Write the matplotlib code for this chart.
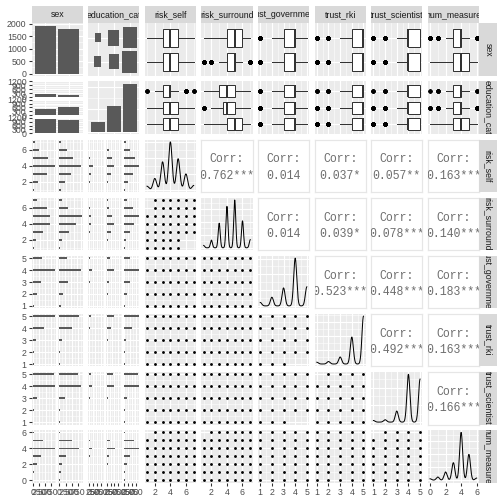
import numpy as np
import matplotlib
matplotlib.use("Agg")
import matplotlib.pyplot as plt
from matplotlib import cbook
from matplotlib.patches import Rectangle
from matplotlib.ticker import MaxNLocator, FuncFormatter

plt.rcParams["font.family"] = ["Liberation Sans", "DejaVu Sans"]

names = ["sex", "education_cat", "risk_self", "risk_surround",
         "trust_government", "trust_rki", "trust_scientist", "num_measure"]

values = {
    "risk_self": [1, 2, 3, 4, 5, 6, 7],
    "risk_surround": [1, 2, 3, 4, 5, 6, 7],
    "trust_government": [1, 2, 3, 4, 5],
    "trust_rki": [1, 2, 3, 4, 5],
    "trust_scientist": [1, 2, 3, 4, 5],
    "num_measure": [0, 1, 2, 3, 4, 5, 6],
}

# rows: sex 1, 2 / columns: education_cat 1..3
sex_edu = [[260, 510, 1150],
           [170, 630, 1000]]

# counts of each value, per sex level
by_sex = {
    "risk_self": [[48, 145, 405, 637, 434, 193, 58], [44, 151, 328, 621, 381, 222, 53]],
    "risk_surround": [[30, 100, 290, 495, 490, 395, 120], [25, 80, 285, 475, 629, 235, 70]],
    "trust_government": [[69, 180, 345, 939, 387], [64, 153, 345, 894, 344]],
    "trust_rki": [[48, 64, 160, 560, 1088], [29, 43, 144, 605, 979]],
    "trust_scientist": [[29, 43, 186, 860, 802], [27, 41, 203, 820, 709]],
    "num_measure": [[26, 53, 171, 342, 894, 395, 39], [24, 59, 118, 272, 782, 509, 36]],
}

# counts of each value, per education level
by_edu = {
    "risk_self": [[10, 40, 100, 180, 65, 25, 10], [28, 90, 225, 380, 250, 130, 37],
                  [54, 166, 408, 698, 500, 260, 64]],
    "risk_surround": [[12, 30, 80, 120, 110, 55, 23], [18, 62, 205, 380, 289, 135, 50],
                      [25, 88, 290, 470, 720, 440, 117]],
    "trust_government": [[18, 42, 85, 200, 85], [40, 100, 215, 565, 220], [75, 191, 390, 1068, 426]],
    "trust_rki": [[12, 15, 45, 140, 218], [25, 32, 95, 360, 628], [40, 60, 164, 665, 1221]],
    "trust_scientist": [[10, 14, 70, 190, 146], [18, 27, 120, 520, 455], [28, 43, 199, 970, 910]],
    "num_measure": [[6, 14, 35, 80, 210, 75, 10], [14, 33, 85, 180, 560, 240, 28],
                    [30, 65, 169, 354, 906, 589, 37]],
}

# (y variable, x variable): value pairs (x, y) with no respondents
no_points = {
    ("risk_surround", "risk_self"): [(1, 7), (1, 6), (6, 2), (7, 2), (6, 1), (7, 1)],
    ("trust_rki", "trust_government"): [(4, 1), (5, 1)],
    ("trust_scientist", "trust_government"): [(4, 1), (5, 1)],
    ("trust_scientist", "trust_rki"): [(1, 5)],
    ("num_measure", "risk_self"): [(1, 6)],
    ("num_measure", "risk_surround"): [(1, 6)],
    ("num_measure", "trust_scientist"): [(1, 6)],
}

corr = {
    ("risk_self", "risk_surround"): "0.762***",
    ("risk_self", "trust_government"): "0.014",
    ("risk_self", "trust_rki"): "0.037*",
    ("risk_self", "trust_scientist"): "0.057**",
    ("risk_self", "num_measure"): "0.163***",
    ("risk_surround", "trust_government"): "0.014",
    ("risk_surround", "trust_rki"): "0.039*",
    ("risk_surround", "trust_scientist"): "0.078***",
    ("risk_surround", "num_measure"): "0.140***",
    ("trust_government", "trust_rki"): "0.523***",
    ("trust_government", "trust_scientist"): "0.448***",
    ("trust_government", "num_measure"): "0.183***",
    ("trust_rki", "trust_scientist"): "0.492***",
    ("trust_rki", "num_measure"): "0.163***",
    ("trust_scientist", "num_measure"): "0.166***",
}

W = H = 504
fig = plt.figure(figsize=(7, 7), dpi=72)

X0, DX, PW = 31.5, 56.6, 51.3
Y0, DY, PH = 23.3, 58.1, 52.6
STRIP = 17.8
GAP = 2.0
GREY = "#595959"
INK = "#333333"
fmt = FuncFormatter(lambda v, p: f"{v:g}")


def add_ax(x, y, w, h):
    return fig.add_axes([x / W, 1 - (y + h) / H, w / W, h / H])


def breaks(lo, hi):
    return MaxNLocator(nbins=4, steps=[1, 2, 2.5, 3, 5, 10]).tick_values(lo, hi)


def minor(maj):
    step = maj[1] - maj[0]
    return np.arange(maj[0] - step / 2, maj[-1] + step, step)


def inside(v, lim):
    v = np.asarray(v, float)
    return v[(v >= lim[0] - 1e-9) & (v <= lim[1] + 1e-9)]


def setup(ax, xlim, ylim, xmaj, ymaj, xmin=(), ymin=(), xlab=False, ylab=False):
    ax.set_facecolor("#EBEBEB")
    for s in ax.spines.values():
        s.set_visible(False)
    ax.set_xlim(*xlim)
    ax.set_ylim(*ylim)
    ax.set_xticks(inside(xmaj, xlim))
    ax.set_yticks(inside(ymaj, ylim))
    ax.set_xticks(inside(xmin, xlim), minor=True)
    ax.set_yticks(inside(ymin, ylim), minor=True)
    ax.xaxis.set_major_formatter(fmt)
    ax.yaxis.set_major_formatter(fmt)
    ax.grid(True, which="major", color="white", lw=1.1)
    ax.grid(True, which="minor", color="white", lw=0.55)
    ax.set_axisbelow(True)
    ax.tick_params(which="minor", length=0)
    ax.tick_params(which="major", length=2.75, width=1.07, color=INK,
                   labelsize=8.8, labelcolor="#4D4D4D", pad=2.2)
    ax.tick_params(axis="x", bottom=xlab, labelbottom=xlab)
    ax.tick_params(axis="y", left=ylab, labelleft=ylab)


def cont_axis(var):
    v = values[var]
    r = max(v) - min(v)
    maj = breaks(min(v), max(v))
    return (min(v) - 0.05 * r, max(v) + 0.05 * r), maj, minor(maj)


def count_axis(m):
    maj = breaks(0, m)
    return (-0.05 * m, 1.05 * m), maj, minor(maj)


def bar_panel(ax, counts, ylab):
    k = len(counts)
    pos = np.arange(1, k + 1)
    lim, maj, mn = count_axis(max(counts))
    setup(ax, (0.4, k + 0.6), lim, pos, maj, (), mn, ylab=ylab)
    ax.bar(pos, counts, width=0.9, color=GREY)


def count_panel(ax):
    setup(ax, (0.4, 3.6), (0.4, 2.6), [1, 2, 3], [1, 2])
    top = max(max(r) for r in sex_edu)
    for si, row in enumerate(sex_edu):
        for ei, nval in enumerate(row):
            s = 0.92 * np.sqrt(nval / top)
            ax.add_patch(Rectangle((ei + 1 - s / 2, si + 1 - s / 2), s, s, color=GREY, lw=0))


def box_panel(ax, var, groups, xlab):
    k = len(groups)
    lim, maj, mn = cont_axis(var)
    setup(ax, lim, (0.4, k + 0.6), maj, np.arange(1, k + 1), mn, (), xlab=xlab)
    stats = [cbook.boxplot_stats(np.repeat(values[var], g), whis=1.5)[0] for g in groups]
    ax.bxp(stats, positions=[k - g for g in range(k)], orientation="horizontal",
           widths=0.75, patch_artist=True, showcaps=False,
           boxprops=dict(facecolor="white", edgecolor=INK, lw=1.0),
           medianprops=dict(color=INK, lw=2.0),
           whiskerprops=dict(color=INK, lw=1.0),
           flierprops=dict(marker="o", markerfacecolor="black", markeredgecolor="black",
                           markersize=2.8, lw=0))


def facetbar(x, y, ylab):
    fh = (PH - 2 * GAP) / 3
    top = max(max(r) for r in sex_edu)
    lim, maj, mn = count_axis(top)
    for e in range(3):
        ax = add_ax(x, y + e * (fh + GAP), PW, fh)
        setup(ax, (0.4, 2.6), lim, [1, 2], maj, (), mn, ylab=ylab)
        ax.bar([1, 2], [sex_edu[0][e], sex_edu[1][e]], width=0.9, color=GREY)


def facethist(x, y, var, groups, xlab, ylab):
    k = len(groups)
    fw = (PW - (k - 1) * GAP) / k
    vlim, vmaj, vmn = cont_axis(var)
    clim, cmaj, cmn = count_axis(max(max(g) for g in groups))
    v = values[var]
    bw = (max(v) - min(v)) / 29
    for gi, g in enumerate(groups):
        ax = add_ax(x + gi * (fw + GAP), y, fw, PH)
        setup(ax, clim, vlim, cmaj, vmaj, cmn, vmn, xlab=xlab, ylab=ylab and gi == 0)
        ax.barh(v, g, height=bw, color=GREY)


def nrd0(x):
    sd = np.std(x, ddof=1)
    q75, q25 = np.percentile(x, [75, 25])
    lo = min(sd, (q75 - q25) / 1.34)
    return 0.9 * lo * len(x) ** -0.2


def density_panel(ax, var, xlab):
    lv = np.array(values[var], float)
    w = np.array(by_sex[var][0]) + np.array(by_sex[var][1])
    bw = nrd0(np.repeat(lv, w))
    grid = np.linspace(lv.min(), lv.max(), 512)
    dens = (w[:, None] * np.exp(-0.5 * ((grid[None, :] - lv[:, None]) / bw) ** 2)).sum(0)
    dens /= w.sum() * bw * np.sqrt(2 * np.pi)
    lim, maj, mn = cont_axis(var)
    dlim, dmaj, dmn = count_axis(dens.max())
    setup(ax, lim, dlim, maj, dmaj, mn, dmn, xlab=xlab)
    ax.plot(grid, dens, color="black", lw=1.0)


def scatter_panel(ax, yv, xv, xlab, ylab):
    xlim, xmaj, xmn = cont_axis(xv)
    ylim, ymaj, ymn = cont_axis(yv)
    setup(ax, xlim, ylim, xmaj, ymaj, xmn, ymn, xlab=xlab, ylab=ylab)
    skip = set(no_points.get((yv, xv), []))
    pts = [(a, b) for a in values[xv] for b in values[yv] if (a, b) not in skip]
    ax.scatter([p[0] for p in pts], [p[1] for p in pts], s=8, color="black", lw=0)


def corr_panel(ax, text):
    ax.set_facecolor("white")
    ax.set_xticks([])
    ax.set_yticks([])
    for s in ax.spines.values():
        s.set_color("#E6E6E6")
        s.set_linewidth(1.2)
    kw = dict(ha="center", va="center", fontsize=11.5, color="#6E6E6E",
              family=["Liberation Mono", "DejaVu Sans Mono"], transform=ax.transAxes)
    for yy, s in ((0.62, "Corr:"), (0.31, text)):
        t = ax.text(0.5, yy, s, **kw)
        t.set_clip_box(ax.bbox)
        t.set_clip_on(True)


last = len(names) - 1
for i, rv in enumerate(names):
    for j, cv in enumerate(names):
        x, y = X0 + j * DX, Y0 + i * DY
        xlab, ylab = i == last, j == 0
        if i == 0 and j == 0:
            bar_panel(add_ax(x, y, PW, PH), [sum(r) for r in sex_edu], ylab)
        elif i == 1 and j == 1:
            bar_panel(add_ax(x, y, PW, PH), [sum(c) for c in zip(*sex_edu)], False)
        elif i == 0 and j == 1:
            count_panel(add_ax(x, y, PW, PH))
        elif i == 1 and j == 0:
            facetbar(x, y, ylab)
        elif i <= 1:
            groups = by_sex[cv] if i == 0 else by_edu[cv]
            box_panel(add_ax(x, y, PW, PH), cv, groups, xlab)
        elif j <= 1:
            groups = by_sex[rv] if j == 0 else by_edu[rv]
            facethist(x, y, rv, groups, xlab, ylab)
        elif i == j:
            density_panel(add_ax(x, y, PW, PH), rv, xlab)
        elif i > j:
            scatter_panel(add_ax(x, y, PW, PH), rv, cv, xlab, ylab)
        else:
            corr_panel(add_ax(x, y, PW, PH), corr[(rv, cv)])

# strips
for k, name in enumerate(names):
    for ax, rot in ((add_ax(X0 + k * DX, Y0 - STRIP, PW, STRIP), 0),
                    (add_ax(X0 + last * DX + PW, Y0 + k * DY, STRIP, PH), -90)):
        ax.set_facecolor("#D9D9D9")
        ax.set_xticks([])
        ax.set_yticks([])
        for s in ax.spines.values():
            s.set_visible(False)
        ax.text(0.5, 0.5, name, ha="center", va="center", rotation=rot, fontsize=8.8,
                color="#1A1A1A", transform=ax.transAxes, clip_on=True)

fig.savefig("out.png", dpi=72)
